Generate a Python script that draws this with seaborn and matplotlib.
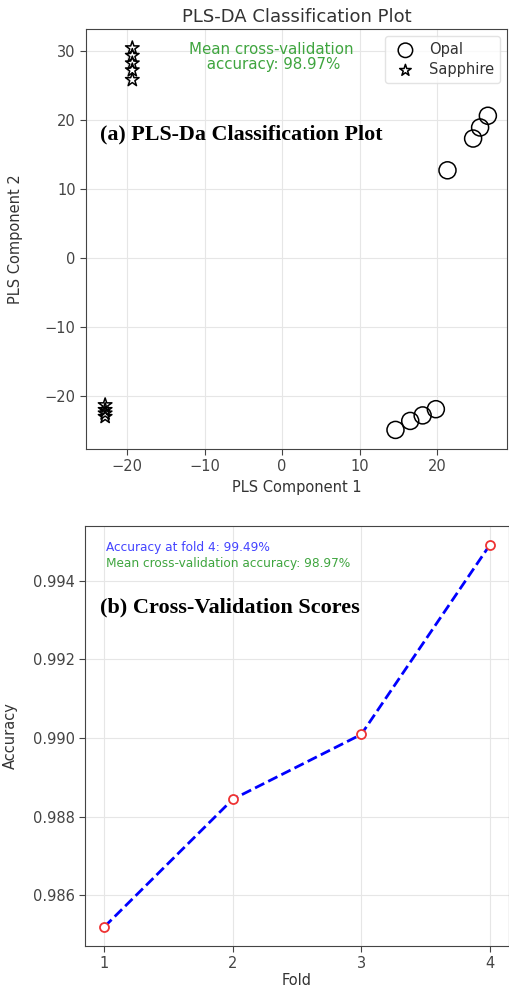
import numpy as np
import pandas as pd
import matplotlib
matplotlib.use("Agg")
import matplotlib.pyplot as plt
import seaborn as sns

# ---- data ----
opal_x = [14.6, 16.5, 18.1, 19.8, 21.3, 24.6, 25.5, 26.5]
opal_y = [-24.9, -23.6, -22.8, -21.9, 12.7, 17.3, 18.9, 20.6]
sapphire_x = [-19.3, -19.3, -19.3, -19.3, -19.3, -22.8, -22.8, -22.8, -22.8]
sapphire_y = [30.4, 29.3, 28.2, 27.2, 25.8, -21.3, -22.0, -22.5, -23.0]
class_labels = ["Opal", "Sapphire"]

folds = [1, 2, 3, 4]
fold_accuracy = [0.98519, 0.98844, 0.99009, 0.99491]
mean_acc_text = "Mean cross-validation\n accuracy: 98.97%"
fold_text = "Accuracy at fold 4: 99.49%"
mean_text2 = "Mean cross-validation accuracy: 98.97%"

sns.set_style("ticks")
plt.rcParams["font.family"] = ["DejaVu Sans"]
plt.rcParams["axes.edgecolor"] = "#444444"
plt.rcParams["xtick.color"] = "#444444"
plt.rcParams["ytick.color"] = "#444444"
plt.rcParams["text.color"] = "#333333"
plt.rcParams["axes.labelcolor"] = "#333333"

W, H = 509, 989
fig = plt.figure(figsize=(W / 100, H / 100), dpi=100)

# ---------------- top panel ----------------
ax1 = fig.add_axes([86 / W, 1 - 449 / H, 421 / W, 420 / H])
df_o = pd.DataFrame({"x": opal_x, "y": opal_y})
df_s = pd.DataFrame({"x": sapphire_x, "y": sapphire_y})
sns.scatterplot(data=df_o, x="x", y="y", marker="o", s=150, facecolors="none",
                edgecolor="black", linewidth=1.1, label=class_labels[0], ax=ax1, zorder=3)
sns.scatterplot(data=df_s, x="x", y="y", marker="*", s=105, facecolors="none",
                edgecolor="black", linewidth=1.1, label=class_labels[1], ax=ax1, zorder=3)
for coll in ax1.collections:
    coll.set_facecolor("none")
    coll.set_edgecolor("black")
ax1.set_xticks([-20, -10, 0, 10, 20])
ax1.set_yticks([-20, -10, 0, 10, 20, 30])
ax1.grid(True, color="#e6e6e6", linewidth=0.8)
ax1.set_axisbelow(True)
ax1.tick_params(labelsize=10.5, length=4)
ax1.set_xlabel("PLS Component 1", fontsize=10.5)
ax1.set_ylabel("PLS Component 2", fontsize=10.5)
ax1.yaxis.set_label_coords(-0.15, 0.5)
ax1.set_title("PLS-DA Classification Plot", fontsize=13, pad=5)
leg = ax1.legend(loc="upper right", fontsize=10.5, frameon=True, borderpad=0.4,
                 handletextpad=0.6, labelspacing=0.35, markerscale=0.85)
leg.get_frame().set_edgecolor("#dddddd")
for h in leg.legend_handles:
    h.set_facecolor("none")
    h.set_edgecolor("black")
ax1.text(0.44, 0.97, mean_acc_text, transform=ax1.transAxes, ha="center", va="top",
         fontsize=10.8, color="#3fa53f", linespacing=1.0)
ax1.text(0.033, 0.748, "(a) PLS-Da Classification Plot", transform=ax1.transAxes,
         ha="left", va="center", fontsize=15.8, fontweight="bold",
         family=["Liberation Serif"], color="black")

# ---------------- bottom panel ----------------
ax2 = fig.add_axes([85 / W, 1 - 946 / H, 424 / W, 420 / H])
df_cv = pd.DataFrame({"Fold": folds, "Accuracy": fold_accuracy})
sns.lineplot(data=df_cv, x="Fold", y="Accuracy", ax=ax2, color="blue",
             linestyle="--", linewidth=2, zorder=2)
sns.scatterplot(data=df_cv, x="Fold", y="Accuracy", ax=ax2, marker="o", s=42,
                facecolors="white", edgecolor="#ee3333", linewidth=1.3, zorder=3)
for coll in ax2.collections:
    coll.set_facecolor("white")
    coll.set_edgecolor("#ee3333")
ax2.margins(x=0.05, y=0.05)
ax2.set_xticks(folds)
ax2.set_yticks([0.986, 0.988, 0.990, 0.992, 0.994])
ax2.set_yticklabels(["0.986", "0.988", "0.990", "0.992", "0.994"])
ax2.grid(True, color="#e6e6e6", linewidth=0.8)
ax2.set_axisbelow(True)
ax2.tick_params(labelsize=10.5, length=4)
ax2.set_xlabel("Fold", fontsize=10.5, labelpad=1)
ax2.set_ylabel("Accuracy", fontsize=10.5)
ax2.yaxis.set_label_coords(-0.158, 0.5)
ax2.text(0.05, 0.965, fold_text, transform=ax2.transAxes, ha="left", va="top",
         fontsize=8.7, color="#4444ff")
ax2.text(0.05, 0.925, mean_text2, transform=ax2.transAxes, ha="left", va="top",
         fontsize=8.7, color="#3fa53f")
ax2.text(0.035, 0.807, "(b) Cross-Validation Scores", transform=ax2.transAxes,
         ha="left", va="center", fontsize=16, fontweight="bold",
         family=["Liberation Serif"], color="black")

fig.savefig("out.png", dpi=100)
